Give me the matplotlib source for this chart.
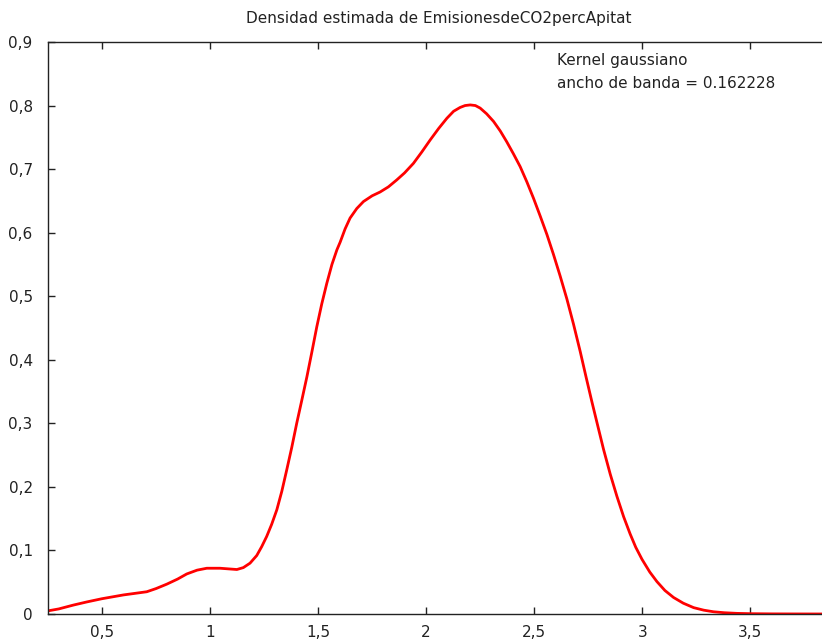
import matplotlib
matplotlib.use("Agg")
import matplotlib.pyplot as plt

# ==========================
# DATA
# ==========================
X_VALUES = [0.251, 0.30, 0.367, 0.43, 0.499, 0.599, 0.707, 0.75, 0.80, 0.85,
            0.892, 0.94, 0.985, 1.046, 1.085, 1.124, 1.154, 1.185, 1.216, 1.239,
            1.262, 1.285, 1.309, 1.332, 1.355, 1.378, 1.401, 1.425, 1.448, 1.471,
            1.494, 1.517, 1.540, 1.564, 1.587, 1.602, 1.625, 1.648, 1.679, 1.710,
            1.750, 1.787, 1.825, 1.864, 1.900, 1.941, 1.980, 2.019, 2.058, 2.096,
            2.127, 2.157, 2.180, 2.204, 2.228, 2.250, 2.280, 2.312, 2.343, 2.373,
            2.404, 2.435, 2.466, 2.497, 2.528, 2.559, 2.589, 2.620, 2.651, 2.682,
            2.713, 2.740, 2.767, 2.795, 2.821, 2.852, 2.883, 2.914, 2.944, 2.970,
            2.999, 3.035, 3.068, 3.105, 3.145, 3.190, 3.238, 3.285, 3.330, 3.38,
            3.438, 3.50, 3.60, 3.70, 3.87]
DENSITY = [0.005, 0.008, 0.014, 0.019, 0.024, 0.030, 0.035, 0.040, 0.047, 0.055,
           0.063, 0.069, 0.072, 0.072, 0.071, 0.070, 0.073, 0.080, 0.092, 0.106,
           0.122, 0.141, 0.164, 0.193, 0.227, 0.262, 0.300, 0.337, 0.373, 0.412,
           0.452, 0.488, 0.520, 0.550, 0.573, 0.585, 0.606, 0.623, 0.638, 0.649,
           0.658, 0.664, 0.672, 0.683, 0.694, 0.709, 0.727, 0.746, 0.764, 0.780,
           0.791, 0.797, 0.800, 0.801, 0.800, 0.796, 0.787, 0.775, 0.760, 0.743,
           0.724, 0.704, 0.680, 0.654, 0.626, 0.597, 0.566, 0.532, 0.496, 0.456,
           0.413, 0.373, 0.334, 0.295, 0.259, 0.220, 0.185, 0.153, 0.126, 0.105,
           0.086, 0.066, 0.051, 0.037, 0.026, 0.017, 0.010, 0.006, 0.0035, 0.002,
           0.001, 0.0005, 0.0002, 0.0001, 0.0]

X_TICKS = [0.5, 1, 1.5, 2, 2.5, 3, 3.5]
X_TICK_LABELS = ["0,5", "1", "1,5", "2", "2,5", "3", "3,5"]
Y_TICKS = [0, 0.1, 0.2, 0.3, 0.4, 0.5, 0.6, 0.7, 0.8, 0.9]
Y_TICK_LABELS = ["0", "0,1", "0,2", "0,3", "0,4", "0,5", "0,6", "0,7", "0,8", "0,9"]

TITLE = "Densidad estimada de EmisionesdeCO2percApitat"
NOTE_LINES = ["Kernel gaussiano", "ancho de banda = 0.162228"]

# ==========================
# PLOT
# ==========================
W, H = 822, 641
fig = plt.figure(figsize=(W / 100, H / 100), dpi=100)
ax = fig.add_axes([48 / W, 27 / H, (W - 48) / W + 0.01, 572 / H])

ax.plot(X_VALUES, DENSITY, color="#ff0000", linewidth=2.0,
        solid_joinstyle="round", solid_capstyle="round")

ax.set_xlim(0.25, 3.87)
ax.set_ylim(0, 0.9)

ax.set_xticks(X_TICKS)
ax.set_xticklabels(X_TICK_LABELS)
ax.set_yticks(Y_TICKS)
ax.set_yticklabels(Y_TICK_LABELS)

ax.tick_params(axis="x", direction="in", length=5, width=1, top=True,
               labelsize=11, pad=8, colors="#222222")
ax.tick_params(axis="y", direction="in", length=5, width=1, right=False,
               labelsize=11, pad=11, colors="#222222")

for side in ["left", "top", "bottom"]:
    ax.spines[side].set_color("#222222")
    ax.spines[side].set_linewidth(1.0)
ax.spines["right"].set_visible(False)

fig.text(439 / W, 1 - 18 / H, TITLE, ha="center", va="center",
         fontsize=11, color="#222222")
for i, line in enumerate(NOTE_LINES):
    fig.text(557 / W, 1 - (60 + 24 * i) / H, line, ha="left", va="center",
             fontsize=11, color="#222222")

fig.savefig("out.png", dpi=100)
